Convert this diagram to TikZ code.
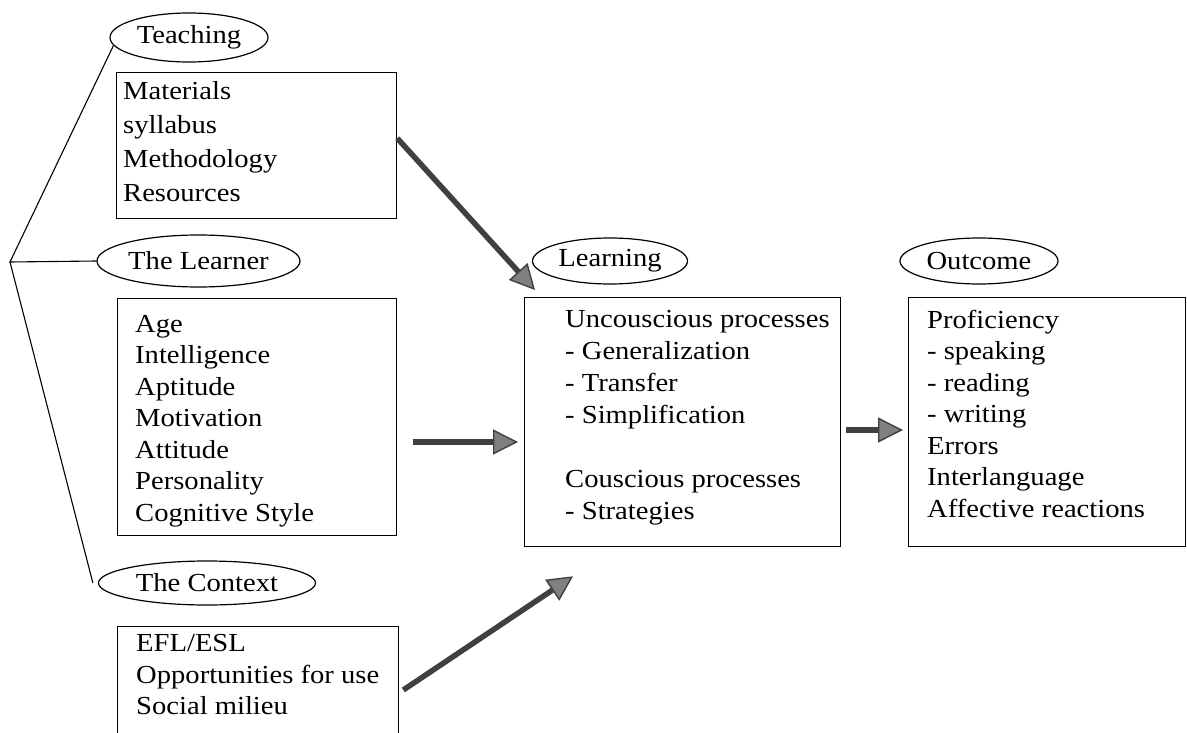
\documentclass[tikz,border=0pt]{standalone}
\usepackage{fontspec}
\setmainfont{Liberation Serif}[FakeStretch=1.1]
\usetikzlibrary{shapes.geometric,arrows.meta,calc}
\begin{document}
\begin{tikzpicture}[x=1pt,y=-1pt,
  every node/.style={font=\fontsize{26}{31.5}\selectfont},
  oval/.style={ellipse,draw,line width=1.2pt,inner sep=0pt},
  box/.style={rectangle,draw,line width=1.3pt,inner sep=0pt,anchor=north west},
  txt/.style={anchor=north west,align=left,inner sep=0pt},
  fan/.style={line width=1.1pt},
  bigarrow/.style={line width=5.5pt,draw=black!75,
    -{Triangle[length=25pt,width=25pt,line width=1.4pt,fill=black!50]}}]
\fill[white] (0,0) rectangle (1187,733);
\useasboundingbox (0,0) rectangle (1187,733);

% ellipses
\node[oval,minimum width=158pt,minimum height=49pt] (teach) at (189,37.5) {Teaching};
\node[oval,minimum width=203pt,minimum height=52pt] (lrn) at (198.5,261) {The Learner};
\node[oval,minimum width=217pt,minimum height=44pt] (ctx) at (207,583) {The Context};
\node[oval,minimum width=155pt,minimum height=46pt] (learnE) at (610,261) {Learning};
\node[oval,minimum width=158pt,minimum height=46pt] (outE) at (979,261) {Outcome};

% boxes
\node[box,minimum width=280pt,minimum height=146pt] (tbox) at (116,72) {};
\node[box,minimum width=279pt,minimum height=237pt] (lbox) at (117,298) {};
\node[box,minimum width=281pt,minimum height=150pt] (cbox) at (117,626) {};
\node[box,minimum width=316pt,minimum height=249pt] (gbox) at (524,297) {};
\node[box,minimum width=277pt,minimum height=249pt] (obox) at (908,297) {};

% texts
\node[txt,font=\fontsize{26}{34}\selectfont] (ttxt) at (123,75.2)
  {\strut Materials\\syllabus\\Methodology\\Resources};
\node[txt] (ltxt) at (135,310)
  {\strut Age\\Intelligence\\Aptitude\\Motivation\\Attitude\\Personality\\Cognitive Style};
\node[txt] (ctxt) at (136,629.5)
  {\strut EFL/ESL\\Opportunities for use\\Social milieu};
\node[txt,font=\fontsize{26}{32}\selectfont] (gtxt) at (565,304.6)
  {\strut Uncouscious processes\\- Generalization\\- Transfer\\- Simplification\\[32pt]Couscious processes\\- Strategies};
\node[txt] (otxt) at (927,306)
  {\strut Proficiency\\- speaking\\- reading\\- writing\\Errors\\Interlanguage\\Affective reactions};

% fan lines
\coordinate (fanpt) at (10,262);
\draw[fan] (teach.186) -- (fanpt) -- (lrn.west);
\draw[fan] (fanpt) -- ($(ctx.west)+(-5,0)$);

% arrows
\coordinate (a1s) at ($(tbox.north east)!0.45!(tbox.south east)$);
\coordinate (a1e) at ($(gbox.north west)+(11,-7)$);
\draw[bigarrow] (a1s) -- (a1e);
\coordinate (a2s) at ($(lbox.east |- 0,442)+(16,0)$);
\coordinate (a2e) at ($(gbox.west |- 0,442)+(-6,0)$);
\draw[bigarrow] (a2s) -- (a2e);
\coordinate (a3s) at ($(cbox.north east)+(4,64)$);
\coordinate (a3e) at ($(gbox.south west)+(49,29)$);
\draw[bigarrow] (a3s) -- (a3e);
\coordinate (a4s) at ($(gbox.east |- 0,430)+(5,0)$);
\coordinate (a4e) at ($(obox.west |- 0,430)+(-5,0)$);
\draw[bigarrow] (a4s) -- (a4e);
\end{tikzpicture}
\end{document}
